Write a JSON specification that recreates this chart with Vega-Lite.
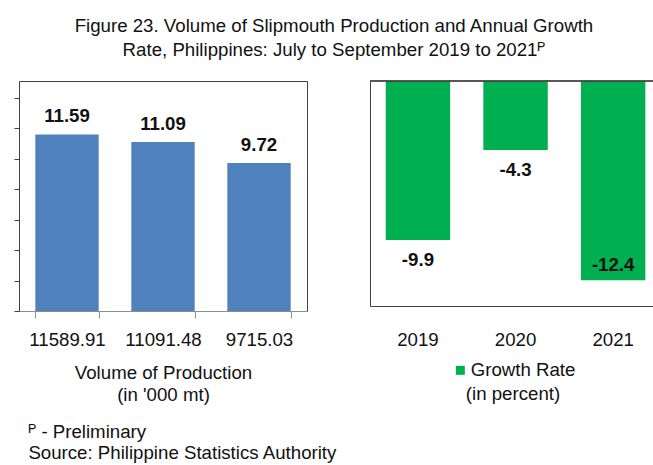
{
  "$schema": "https://vega.github.io/schema/vega-lite/v6.json",
  "padding": {"left": 12, "top": 17, "right": 0, "bottom": 0},
  "autosize": {"type": "pad"},
  "background": "white",
  "datasets": {
    "volume": [
      {"volume": "11589.91", "value": 11.59},
      {"volume": "11091.48", "value": 11.09},
      {"volume": "9715.03", "value": 9.72}
    ],
    "growth": [
      {"year": "2019", "rate": -9.9, "series": "Growth Rate"},
      {"year": "2020", "rate": -4.3, "series": "Growth Rate"},
      {"year": "2021", "rate": -12.4, "series": "Growth Rate"}
    ]
  },
  "title": {
    "text": ["ᴾ - Preliminary", "Source: Philippine Statistics Authority"],
    "orient": "bottom",
    "anchor": "start",
    "align": "left",
    "dx": 16,
    "offset": 18,
    "fontSize": 18.67,
    "fontWeight": "normal",
    "lineHeight": 21.5,
    "color": "#111111"
  },
  "vconcat": [
    {
      "title": {
        "text": ["Figure 23. Volume of Slipmouth Production and  Annual Growth", "Rate, Philippines: July to September 2019 to 2021ᴾ"],
        "anchor": "middle",
        "fontSize": 18.67,
        "fontWeight": "normal",
        "lineHeight": 23.5,
        "offset": 16,
        "color": "#111111"
      },
      "spacing": 61,
      "hconcat": [
        {
          "width": 288,
          "height": 230,
          "data": {"name": "volume"},
          "view": {"stroke": "#404040", "strokeWidth": 1},
          "layer": [
            {
              "mark": {"type": "bar", "color": "#4F81BD"},
              "encoding": {
                "x": {
                  "field": "volume", "type": "nominal", "sort": null, "title": ["Volume of Production", "(in '000 mt)"],
                  "scale": {"paddingInner": 0.34, "paddingOuter": 0.17},
                  "axis": {
                    "domainColor": "#8c8c8c", "tickColor": "#8c8c8c", "tickBand": "extent", "tickSize": 7,
                    "labelAngle": 0, "labelFontSize": 18.67, "labelPadding": 12, "labelColor": "#111111",
                    "titleFontSize": 18.67, "titleFontWeight": "normal", "titleLineHeight": 22, "titlePadding": 15, "titleColor": "#111111"
                  }
                },
                "y": {
                  "field": "value", "type": "quantitative", "title": null,
                  "scale": {"domain": [0, 15.1], "nice": false},
                  "axis": {"tickCount": 8, "labels": true, "labelOpacity": 0, "labelFontSize": 1, "labelPadding": 0, "labelOverlap": false, "domain": false, "grid": false, "tickSize": 5, "tickWidth": 1, "tickColor": "#404040"}
                }
              }
            },
            {
              "mark": {"type": "text", "baseline": "alphabetic", "dy": -12, "fontSize": 18.67, "fontWeight": "bold", "color": "#111111"},
              "encoding": {
                "x": {"field": "volume", "type": "nominal", "sort": null, "title": ["Volume of Production", "(in '000 mt)"]},
                "y": {"field": "value", "type": "quantitative", "title": null},
                "text": {"field": "value", "type": "quantitative", "format": ".2f"}
              }
            }
          ]
        },
        {
          "width": 285,
          "height": 225,
          "title": {"text": "\u00a0", "fontSize": 1, "offset": 4},
          "data": {"name": "growth"},
          "layer": [
            {
              "mark": {"type": "bar"},
              "encoding": {
                "x": {
                  "field": "year", "type": "nominal", "sort": null, "title": null,
                  "scale": {"paddingInner": 0.34, "paddingOuter": 0.13, "align": 0.62},
                  "axis": {"domainColor": "#404040", "ticks": false, "labelAngle": 0, "labelFontSize": 18.67, "labelPadding": 24, "labelColor": "#111111"}
                },
                "y": {
                  "field": "rate", "type": "quantitative", "title": null,
                  "scale": {"domain": [-14, 0], "nice": false},
                  "axis": {"labels": false, "ticks": false, "grid": false, "domain": true, "domainColor": "#404040"}
                },
                "color": {
                  "field": "series", "type": "nominal", "title": "(in percent)",
                  "scale": {"range": ["#00B050"]},
                  "legend": {
                    "orient": "none", "legendX": 432, "legendY": 280, "padding": 0,
                    "titleOrient": "bottom", "titleAnchor": "middle", "titleAlign": "center",
                    "titleFontSize": 18.67, "titleFontWeight": "normal", "titleColor": "#111111", "titlePadding": 5,
                    "labelFontSize": 18.67, "labelColor": "#111111", "labelOffset": 1,
                    "symbolType": "square", "symbolSize": 81, "symbolStrokeWidth": 0, "symbolOpacity": 1
                  }
                }
              }
            },
            {
              "mark": {"type": "rule", "color": "#404040", "strokeWidth": 1},
              "encoding": {"y": {"datum": 0}}
            },
            {
              "transform": [{"filter": "datum.rate > -12"}],
              "mark": {"type": "text", "baseline": "alphabetic", "dy": 25.5, "fontSize": 18.67, "fontWeight": "bold", "color": "#111111"},
              "encoding": {
                "x": {"field": "year", "type": "nominal", "sort": null, "title": null},
                "y": {"field": "rate", "type": "quantitative", "title": null},
                "text": {"field": "rate", "type": "nominal"}
              }
            },
            {
              "transform": [{"filter": "datum.rate <= -12"}],
              "mark": {"type": "text", "baseline": "alphabetic", "dy": -9, "fontSize": 18.67, "fontWeight": "bold", "color": "#111111"},
              "encoding": {
                "x": {"field": "year", "type": "nominal", "sort": null, "title": null},
                "y": {"field": "rate", "type": "quantitative", "title": null},
                "text": {"field": "rate", "type": "nominal"}
              }
            }
          ]
        }
      ]
    }
  ],
  "config": {
    "font": "Liberation Sans",
    "view": {"stroke": null},
    "axis": {"labelFont": "Liberation Sans", "titleFont": "Liberation Sans"},
    "legend": {"labelFont": "Liberation Sans", "titleFont": "Liberation Sans"},
    "title": {"font": "Liberation Sans"},
    "text": {"font": "Liberation Sans"}
  }
}
